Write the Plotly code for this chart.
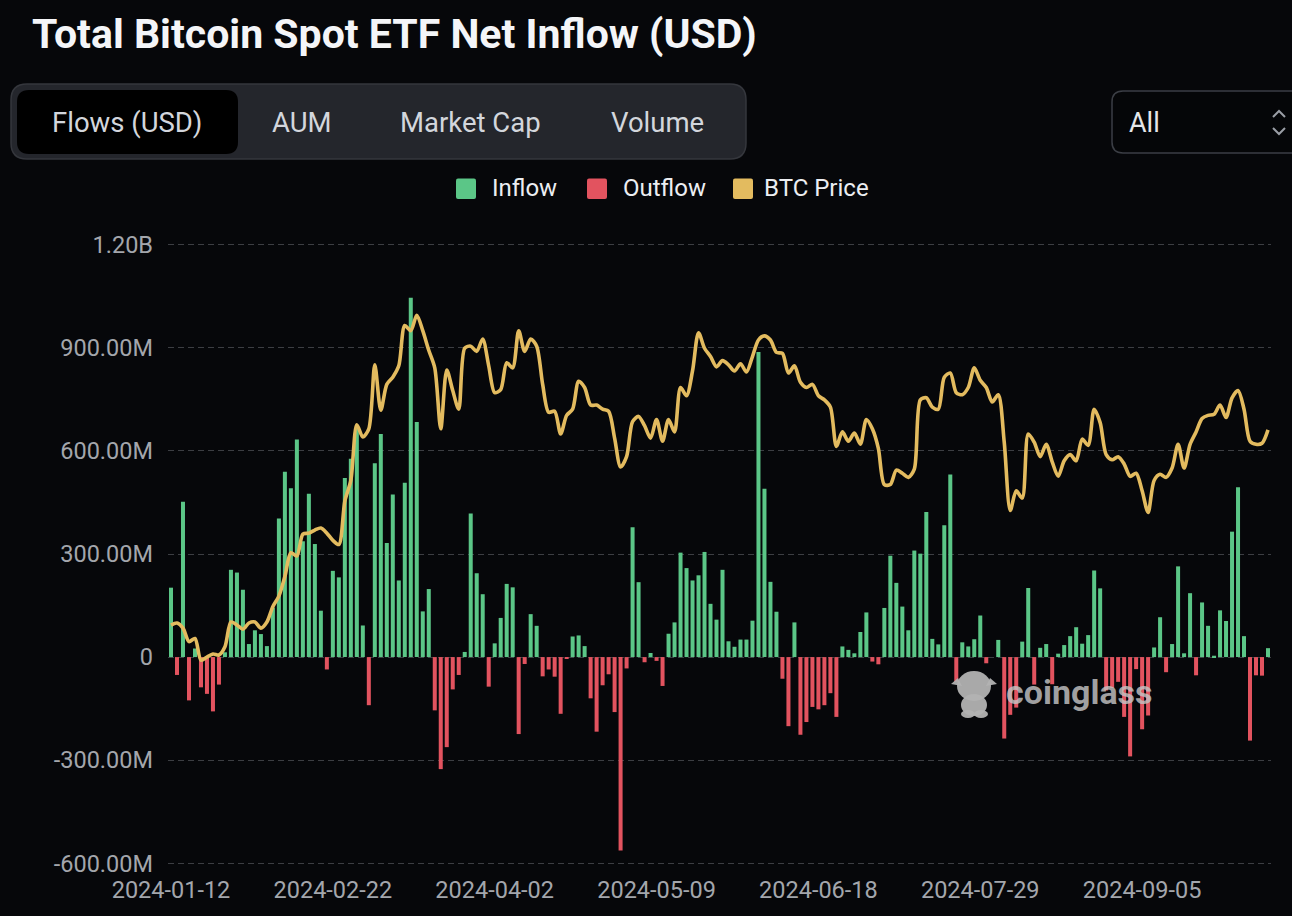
import plotly.graph_objects as go
import pandas as pd

# ---------------- data ----------------
holidays = ["2024-01-15", "2024-02-19", "2024-03-29", "2024-05-27",
            "2024-06-19", "2024-07-04", "2024-09-02"]
dates = [d.strftime("%Y-%m-%d") for d in pd.bdate_range("2024-01-12", "2024-10-04")
         if d.strftime("%Y-%m-%d") not in holidays]

# daily net flow, million USD
net_flow_musd = [
    202, -52, 452, -126, 25, -88, -107, -158, -80, 14,
    254, 246, 196, 38, 78, 67, 32, 144, 403, 539,
    491, 633, 337, 475, 329, 135, -36, 251, 232, 521,
    577, 665, 92, -140, 564, 649, 332, 473, 223, 507,
    1046, 684, 133, 198, -155, -326, -262, -94, -52, 15,
    418, 244, 183, -86, 40, 114, 213, 203, -224, -20,
    125, 91, -56, -36, -57, -165, -4, 60, 63, 32,
    -120, -217, -82, -50, -160, -563, -33, 378, 218, -15,
    12, -11, -84, 68, 101, 304, 259, 223, 238, 306,
    155, 109, 254, 46, 30, 51, 51, 106, 888, 490,
    219, 132, -63, -201, 101, -226, -189, -145, -152, -140,
    -105, -174, 31, 21, 11, 73, 130, -13, -21, 143,
    295, 216, 147, 78, 310, 301, 422, 53, 37, 384,
    531, -72, 43, 31, 52, 121, -18, 0, 50, -237,
    -168, -147, 45, 201, -80, 27, 38, -79, 10, 35,
    61, 87, 39, 64, 252, 200, -97, -90, -72, -174,
    -289, -35, -210, -170, 28, 116, -44, 38, 264, 11,
    186, -53, 159, 91, 4, 136, 105, 365, 494, 61,
    -243, -53, -54, 26,
]

# BTC price, USD
btc_price = [
    43300, 43500, 43000, 41700, 42000, 39900, 40200, 40500, 40400, 41200,
    43600, 43300, 42900, 43500, 43600, 43000, 43600, 45100, 46100, 48000,
    50300, 50000, 52100, 52200, 52500, 52700, 52200, 51500, 51100, 55300,
    57300, 62700, 61500, 62300, 68500, 64100, 66600, 67300, 68400, 72300,
    71800, 73300, 71800, 69900, 68200, 62300, 68000, 66000, 64200, 70100,
    70300, 69800, 71000, 68400, 65800, 66100, 68700, 68200, 71800, 69800,
    71000, 70300, 66600, 63900, 64000, 61800, 63600, 64200, 66900, 66300,
    64600, 64600, 64200, 64000, 61400, 58600, 59600, 63000, 63500, 62600,
    61400, 63200, 61100, 63200, 62000, 66300, 65500, 67900, 71600, 70100,
    69300, 68300, 68900, 68500, 67900, 68600, 67800, 69300, 70900, 71300,
    70900, 69700, 69600, 67700, 68400, 66800, 66300, 66600, 65500, 65100,
    64400, 60600, 62000, 61100, 61900, 60800, 63200, 62300, 60400, 56900,
    56900, 58300, 58000, 57600, 58400, 65100, 65300, 64400, 64200, 67300,
    67700, 65800, 65600, 66300, 68200, 67000, 66300, 64900, 65600, 61000,
    54400, 56300, 55600, 61800, 61000, 59600, 60800, 59100, 57700, 59200,
    59800, 59200, 61300, 60700, 64200, 62900, 59800, 59300, 59600, 58900,
    57700, 58000, 56300, 54200, 57300, 57900, 57600, 58500, 60800, 58500,
    60800, 62000, 63300, 63600, 63700, 64600, 63400, 65300, 66000, 64200,
    61100, 60800, 60900, 62200,
]

y_tickvals = [-600e6, -300e6, 0, 300e6, 600e6, 900e6, 1200e6]
y_ticktext = ["-600.00M", "-300.00M", "0", "300.00M", "600.00M", "900.00M", "1.20B"]
x_tick_dates = ["2024-01-12", "2024-02-22", "2024-04-02", "2024-05-09",
                "2024-06-18", "2024-07-29", "2024-09-05"]
buttons = ["Flows (USD)", "AUM", "Market Cap", "Volume"]
legend_names = ["Inflow", "Outflow", "BTC Price"]

# ---------------- style ----------------
BG = "#06070a"
GREEN = "#5bc687"
RED = "#e2535f"
YELLOW = "#e3bb5f"
TICK = "#a3a6ac"
FONT = "Roboto"

W, H = 1292, 916
ML, MR, MT, MB = 168, 21, 243, 51
PW, PH = W - ML - MR, H - MT - MB


def px(x):
    return (x - ML) / PW


def py(y):
    return (H - MB - y) / PH


def rrect(x0, y0, x1, y1, r):
    return (f"M {px(x0 + r)},{py(y0)} L {px(x1 - r)},{py(y0)} "
            f"Q {px(x1)},{py(y0)} {px(x1)},{py(y0 + r)} L {px(x1)},{py(y1 - r)} "
            f"Q {px(x1)},{py(y1)} {px(x1 - r)},{py(y1)} L {px(x0 + r)},{py(y1)} "
            f"Q {px(x0)},{py(y1)} {px(x0)},{py(y1 - r)} L {px(x0)},{py(y0 + r)} "
            f"Q {px(x0)},{py(y0)} {px(x0 + r)},{py(y0)} Z")


def ellipse(cx, cy, rx, ry):
    return dict(type="circle", xref="paper", yref="paper",
                x0=px(cx - rx), x1=px(cx + rx), y0=py(cy + ry), y1=py(cy - ry))


inflow = [v * 1e6 if v > 0 else None for v in net_flow_musd]
outflow = [v * 1e6 if v < 0 else None for v in net_flow_musd]

fig = go.Figure()
fig.add_trace(go.Bar(x=dates, y=inflow, name=legend_names[0], marker=dict(color=GREEN, line=dict(width=0)),
                     showlegend=False))
fig.add_trace(go.Bar(x=dates, y=outflow, name=legend_names[1], marker=dict(color=RED, line=dict(width=0)),
                     showlegend=False))
fig.add_trace(go.Scatter(x=dates, y=btc_price, name=legend_names[2], yaxis="y2", mode="lines",
                         line=dict(color=YELLOW, width=3.6, shape="spline", smoothing=0.8),
                         showlegend=False))

shapes = []
# button group
shapes.append(dict(type="path", xref="paper", yref="paper", path=rrect(11, 84, 746, 159, 16),
                   fillcolor="#24262c", line=dict(color="#35373d", width=1.5)))
shapes.append(dict(type="path", xref="paper", yref="paper", path=rrect(17, 90, 238, 154, 12),
                   fillcolor="#000000", line=dict(width=0)))
# "All" select
shapes.append(dict(type="path", xref="paper", yref="paper", path=rrect(1112, 91, 1310, 153, 11),
                   fillcolor="#050608", line=dict(color="#3b3e45", width=1.5)))
shapes.append(dict(type="path", xref="paper", yref="paper",
                   path=f"M {px(1273)},{py(117)} L {px(1279)},{py(111)} L {px(1285)},{py(117)}",
                   line=dict(color="#9a9ea5", width=2)))
shapes.append(dict(type="path", xref="paper", yref="paper",
                   path=f"M {px(1273)},{py(128)} L {px(1279)},{py(134)} L {px(1285)},{py(128)}",
                   line=dict(color="#9a9ea5", width=2)))
# legend squares
for x0, c in [(456, GREEN), (587, RED), (733, YELLOW)]:
    shapes.append(dict(type="path", xref="paper", yref="paper", path=rrect(x0, 178.5, x0 + 20, 199, 2),
                       fillcolor=c, line=dict(width=0)))
# watermark mascot
MASC = "rgba(178,178,178,0.95)"
for cx, cy, rx, ry in [(974, 686, 17, 15), (974, 705, 13, 11), (968, 714, 7, 4), (981, 714, 7, 4)]:
    e = ellipse(cx, cy, rx, ry)
    e.update(fillcolor=MASC, line=dict(width=0), layer="above")
    shapes.append(e)
shapes.append(dict(type="path", xref="paper", yref="paper",
                   path=f"M {px(958)},{py(678)} L {px(951)},{py(684)} L {px(962)},{py(686)} Z",
                   fillcolor=MASC, line=dict(width=0)))
shapes.append(dict(type="path", xref="paper", yref="paper",
                   path=f"M {px(990)},{py(678)} L {px(997)},{py(684)} L {px(986)},{py(686)} Z",
                   fillcolor=MASC, line=dict(width=0)))

annotations = []
annotations.append(dict(text="Total Bitcoin Spot ETF Net Inflow (USD)", xref="paper", yref="paper",
                        x=px(30), y=py(34), xanchor="left", yanchor="middle", showarrow=False,
                        font=dict(family=FONT, size=41, color="#f4f5f8", weight=700)))
for label, cx in zip(buttons, [127, 301.5, 470, 657.5]):
    annotations.append(dict(text=label, xref="paper", yref="paper", x=px(cx), y=py(122.5),
                            xanchor="center", yanchor="middle", showarrow=False,
                            font=dict(family=FONT, size=27.5, color="#d3d6dc")))
annotations.append(dict(text="All", xref="paper", yref="paper", x=px(1127), y=py(122.5),
                        xanchor="left", yanchor="middle", showarrow=False,
                        font=dict(family=FONT, size=27, color="#e4e6ea")))
for label, x0 in zip(legend_names, [489.5, 620.5, 762]):
    annotations.append(dict(text=label, xref="paper", yref="paper", x=px(x0), y=py(188),
                            xanchor="left", yanchor="middle", showarrow=False,
                            font=dict(family=FONT, size=24, color="#eceef2")))
annotations.append(dict(text="coinglass", xref="paper", yref="paper", x=px(1079), y=py(692),
                        xanchor="center", yanchor="middle", showarrow=False,
                        font=dict(family=FONT, size=34, color="rgba(196,196,196,0.82)", weight=700)))

fig.update_layout(
    width=W, height=H,
    margin=dict(l=ML, r=MR, t=MT, b=MB, autoexpand=False),
    paper_bgcolor=BG, plot_bgcolor=BG,
    barmode="relative", bargap=0.33,
    showlegend=False,
    font=dict(family=FONT, color=TICK),
    xaxis=dict(type="category", range=[-0.5, len(dates) - 0.5],
               tickmode="array", tickvals=x_tick_dates, ticktext=x_tick_dates,
               tickangle=0, showgrid=False, showline=False, zeroline=False,
               ticks="", ticklabelstandoff=8,
               tickfont=dict(family=FONT, size=23.5, color=TICK)),
    yaxis=dict(range=[-605e6, 1205e6], tickmode="array", tickvals=y_tickvals, ticktext=y_ticktext,
               showgrid=True, gridcolor="#3c3e43", gridwidth=1.2, griddash="6px,4px",
               zeroline=False, showline=False, ticks="", ticklabelstandoff=14,
               tickfont=dict(family=FONT, size=23.5, color=TICK)),
    yaxis2=dict(overlaying="y", range=[20071, 80289], visible=False),
    shapes=shapes,
    annotations=annotations,
)

fig.write_html("out.html", config={"displayModeBar": False},
               post_script="document.body.style.margin='0';document.body.style.overflow='hidden';")
